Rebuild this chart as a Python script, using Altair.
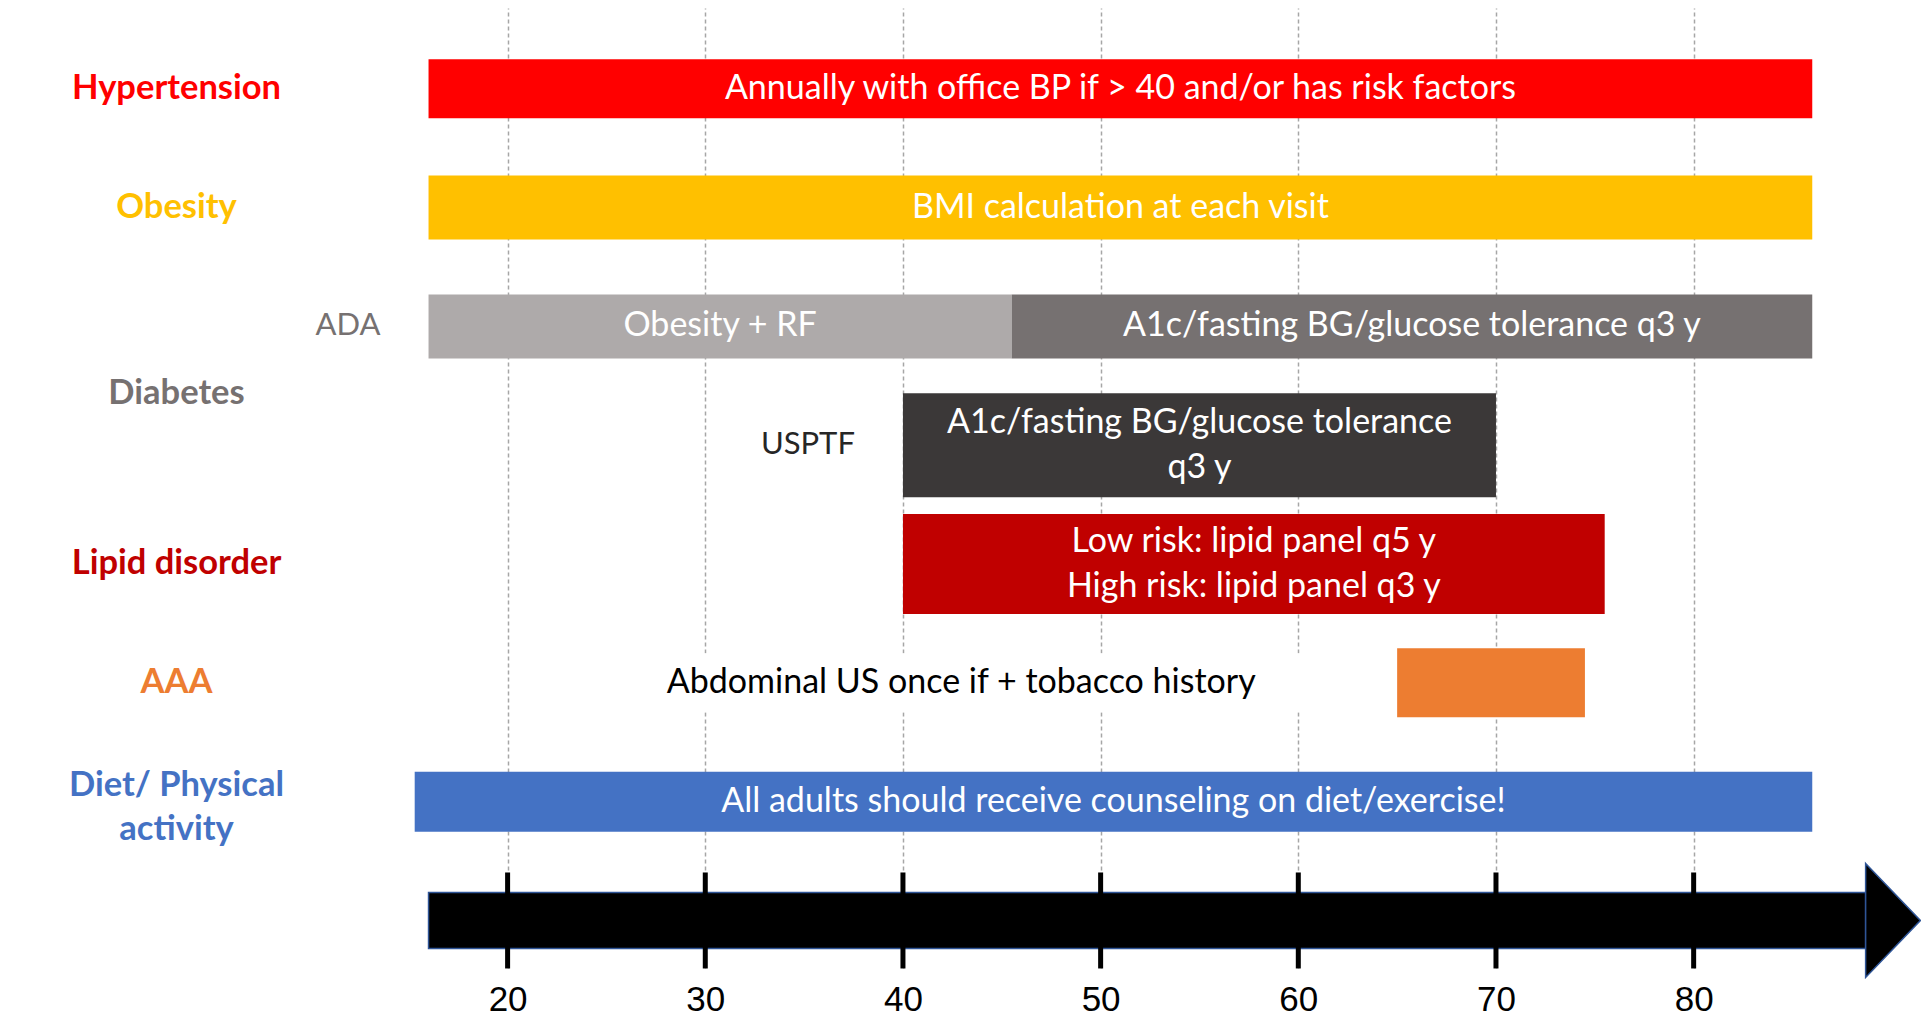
import altair as alt
import pandas as pd

# ---- data (ages) ----
rows = ["Hypertension", "Obesity", "Diabetes (ADA)", "Diabetes (USPTF)",
        "Lipid disorder", "AAA", "Diet/ Physical activity", "Age"]

seg_row = ["Hypertension", "Obesity", "Diabetes (ADA)", "Diabetes (ADA)",
           "Diabetes (USPTF)", "Lipid disorder", "AAA", "Diet/ Physical activity"]
seg_key = ["Hypertension", "Obesity", "ADA risk", "ADA screen",
           "USPTF screen", "Lipid disorder", "AAA", "Diet"]
seg_start = [16, 16, 16, 45.5, 40, 40, 65, 15.3]
seg_end = [86, 86, 45.5, 86, 70, 75.5, 74.5, 86]
seg_text = ["Annually with office BP if > 40 and/or has risk factors",
            "BMI calculation at each visit",
            "Obesity + RF",
            "A1c/fasting BG/glucose tolerance q3 y",
            "A1c/fasting BG/glucose tolerance|q3 y",
            "Low risk: lipid panel q5 y|High risk: lipid panel q3 y",
            "",
            "All adults should receive counseling on diet/exercise!"]

sub_row = ["Diabetes (ADA)", "Diabetes (USPTF)"]
sub_text = ["ADA", "USPTF"]

note_row = ["AAA"]
note_text = ["Abdominal US once if + tobacco history"]
note_start = [22.4]
note_end = [63.5]

arrow_start = [16]
arrow_head = [88.7]
tick_ages = [20, 30, 40, 50, 60, 70, 80]

# ---- styles ----
seg_colors = ["#FF0000", "#FFC000", "#AEAAAA", "#767171",
              "#3B3838", "#C00000", "#ED7D31", "#4472C4"]
bar_height = {"Hypertension": 59, "Obesity": 64, "Diabetes (ADA)": 64,
              "Diabetes (USPTF)": 104, "Lipid disorder": 100, "AAA": 69,
              "Diet/ Physical activity": 60}
label_colors = {"Hypertension": "#FF0000", "Obesity": "#FFC000",
                "Diabetes (USPTF)": "#767171", "Lipid disorder": "#C00000",
                "AAA": "#ED7D31", "Diet/ Physical activity": "#4472C4"}
FONT = "Lato"
TEXT_SIZE = 34
LINE_H = 45

segs = pd.DataFrame({"row": seg_row, "key": seg_key, "start": seg_start,
                     "end": seg_end, "text": seg_text})
subs = pd.DataFrame({"row": sub_row, "label": sub_text})
subs["start"] = [min(s for r, s in zip(seg_row, seg_start) if r == rr) for rr in sub_row]
notes = pd.DataFrame({"row": note_row, "text": note_text,
                      "start": note_start, "end": note_end})
arrow = pd.DataFrame({"row": ["Age"], "start": arrow_start, "head": arrow_head})
ticks = pd.DataFrame({"row": ["Age"] * len(tick_ages), "age": tick_ages})

xscale = alt.Scale(domain=[14, 91.4], nice=False, zero=False)
xaxis = alt.Axis(values=tick_ages, grid=True, gridDash=[4, 3], gridColor="#A6A6A6",
                 gridWidth=1.5, domain=False, ticks=False, labelFont="Liberation Sans",
                 labelFontSize=35, labelColor="black", labelPadding=14,
                 labelBaseline="top", labelAngle=0, format="d", title=None)

yscale = alt.Scale(domain=rows, paddingInner=0.2, paddingOuter=0.14, align=1)
label_expr = ("datum.value == 'Diabetes (ADA)' || datum.value == 'Age' ? '' : "
              "datum.value == 'Diabetes (USPTF)' ? 'Diabetes' : "
              "datum.value == 'Diet/ Physical activity' ? ['Diet/ Physical', 'activity'] : datum.value")
yaxis = alt.Axis(domain=False, ticks=False, grid=False, labelAlign="center",
                 labelBaseline="middle", labelPadding=213, labelFont=FONT,
                 labelFontSize=34.5, labelFontWeight="bold", labelLimit=0,
                 labelLineHeight=44, labelExpr=label_expr, title=None,
                 labelColor={"condition": [{"test": f"datum.value == '{k}'", "value": v}
                                           for k, v in label_colors.items()],
                             "value": "#767171"},
                 labelOffset={"condition": [
                     {"test": "datum.value == 'Diabetes (USPTF)'", "value": -51},
                     {"test": "datum.value == 'Diet/ Physical activity'", "value": -16}],
                     "value": 0})


def X(field):
    return alt.X(field, type="quantitative", scale=xscale, axis=xaxis, title=None)


def Y():
    return alt.Y("row:N", scale=yscale, axis=yaxis, title=None)


color = alt.Color("key:N", scale=alt.Scale(domain=seg_key, range=seg_colors), legend=None)

layers = []

# white box behind the AAA note (hides gridlines like the slide's text box)
layers.append(alt.Chart(notes).mark_bar(color="white", height=59).encode(
    x=X("start"), x2="end", y=Y()))

for r in rows[:7]:
    layers.append(alt.Chart(segs).transform_filter(alt.datum.row == r)
                  .mark_bar(height=bar_height[r]).encode(
                      x=X("start"), x2="end", y=Y(), color=color))

seg_text_base = alt.Chart(segs).transform_calculate(
    mid="(datum.start + datum.end) / 2", lines="split(datum.text, '|')",
    nlines="length(split(datum.text, '|'))")

# one-line labels
layers.append(seg_text_base.transform_filter("datum.nlines == 1").mark_text(
    color="white", font=FONT, fontSize=TEXT_SIZE, align="center", baseline="middle"
).encode(x=X("mid"), y=Y(), text="lines:N"))

# two-line labels, block centred on the bar
layers.append(seg_text_base.transform_filter("datum.nlines == 2").mark_text(
    color="white", font=FONT, fontSize=TEXT_SIZE, lineHeight=LINE_H, align="center",
    baseline="middle", dy=-LINE_H / 2
).encode(x=X("mid"), y=Y(), text="lines:N"))

layers.append(alt.Chart(notes).transform_calculate(
    mid="(datum.start + datum.end) / 2"
).mark_text(color="black", font=FONT, fontSize=TEXT_SIZE, align="center",
            baseline="middle").encode(x=X("mid"), y=Y(), text="text:N"))

layers.append(alt.Chart(subs).mark_text(font=FONT, fontSize=31, align="right",
                                        baseline="middle", dx=-48).encode(
    x=X("start"), y=Y(), text="label:N",
    color=alt.condition(alt.datum.label == "ADA", alt.value("#767171"), alt.value("#262626"))))

layers.append(alt.Chart(arrow).mark_bar(height=56, color="black", stroke="#2F5597",
                                        strokeWidth=1.5).encode(
    x=X("start"), x2="head", y=Y()))

layers.append(alt.Chart(arrow).mark_point(shape="M0,-1L0.96,0L0,1Z", size=12996,
                                          filled=True, fill="black", stroke="#2F5597",
                                          strokeWidth=1.5, opacity=1).encode(
    x=X("head"), y=Y()))

layers.append(alt.Chart(ticks).mark_tick(color="black", thickness=5, size=96,
                                         opacity=1).encode(x=X("age"), y=Y()))

chart = alt.layer(*layers).properties(
    width=1530, height=960,
    autosize=alt.AutoSizeParams(type="none"),
    padding={"left": 381, "top": 0, "right": 2, "bottom": 53},
    background="white",
).configure_view(stroke=None)

chart.save("out.html", embed_options={"renderer": "svg", "actions": False})
